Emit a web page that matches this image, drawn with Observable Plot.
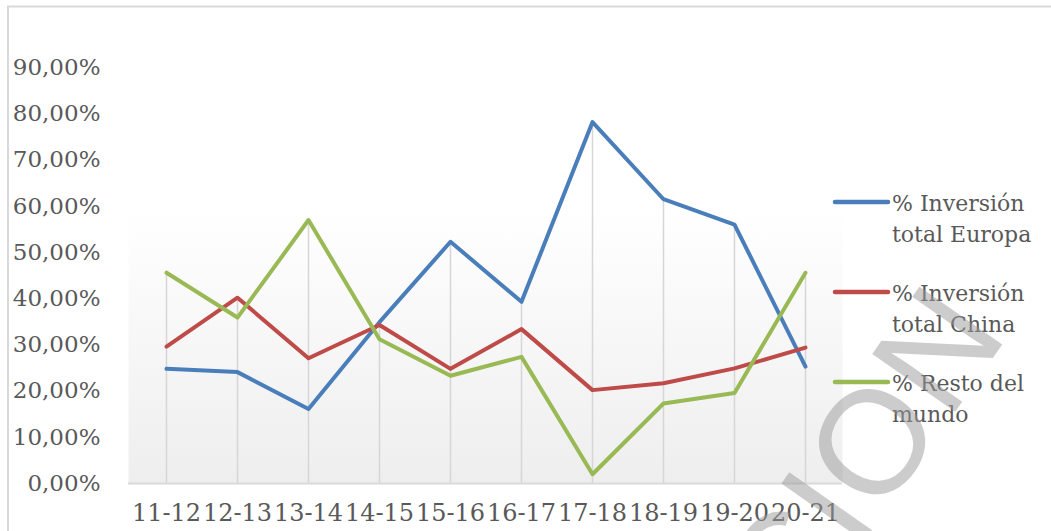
<!DOCTYPE html>
<html>
<head>
<meta charset="utf-8">
<script src="https://cdn.jsdelivr.net/npm/d3@7"></script>
<script src="https://cdn.jsdelivr.net/npm/@observablehq/plot@0.6"></script>
<style>
  html, body { margin: 0; padding: 0; background: #fff; overflow: hidden; }
  #wrap { position: relative; width: 1051px; height: 531px; }
  #wrap svg.overlay { position: absolute; left: 0; top: 0; pointer-events: none; }
</style>
</head>
<body>
<div id="wrap"></div>
<script>
// ---- data ----
const categories = ["11-12", "12-13", "13-14", "14-15", "15-16", "16-17", "17-18", "18-19", "19-20", "20-21"];
const europa = [24.8, 24.1, 16.1, 34.9, 52.3, 39.3, 78.2, 61.5, 56.0, 25.3];
const china  = [29.6, 40.2, 27.1, 34.3, 24.8, 33.4, 20.2, 21.7, 24.9, 29.4];
const resto  = [45.6, 35.9, 57.0, 31.2, 23.3, 27.4, 2.0, 17.3, 19.6, 45.6];
const seriesNames = ["% Inversión total Europa", "% Inversión total China", "% Resto del mundo"];
const legendLines = [["% Inversión", "total Europa"], ["% Inversión", "total China"], ["% Resto del", "mundo"]];
const seriesColors = ["#4a7ebb", "#be4b48", "#98b954"];
const yTicks = [0, 10, 20, 30, 40, 50, 60, 70, 80, 90];

const seriesValues = [europa, china, resto];
const rows = [];
seriesNames.forEach((s, si) => categories.forEach((c, i) => rows.push({series: s, cat: c, value: seriesValues[si][i]})));
const drops = categories.map((c, i) => ({cat: c, top: Math.max(europa[i], china[i], resto[i])}));

const W = 1051, H = 531;
const mL = 128, mR = 209, mT = 67, mB = 48;

const chart = Plot.plot({
  width: W, height: H,
  marginLeft: mL, marginRight: mR, marginTop: mT, marginBottom: mB,
  style: {fontFamily: "'DejaVu Serif', serif", fontSize: "23px", color: "#595959", background: "transparent", overflow: "visible"},
  x: {type: "point", domain: categories, padding: 0.5, label: null},
  y: {domain: [0, 90], label: null},
  color: {domain: seriesNames, range: seriesColors},
  marks: [
    () => {
      const ns = "http://www.w3.org/2000/svg";
      const defs = document.createElementNS(ns, "defs");
      defs.innerHTML = `<linearGradient id="plotGrad" x1="0" y1="0" x2="0" y2="1">
        <stop offset="0" stop-color="#ffffff"/>
        <stop offset="0.34" stop-color="#ffffff"/>
        <stop offset="1" stop-color="#eeeeee"/>
      </linearGradient>`;
      return defs;
    },
    Plot.frame({fill: "url(#plotGrad)", stroke: "none"}),
    Plot.ruleX(drops, {x: "cat", y1: 0, y2: "top", stroke: "#d6d6d6", strokeWidth: 1.5}),
    Plot.ruleY([0], {stroke: "#d9d9d9", strokeWidth: 2}),
    Plot.axisY({ticks: yTicks, tickSize: 0, tickPadding: 28, fontSize: 23,
      tickFormat: d => d.toFixed(2).replace(".", ",") + "%"}),
    Plot.axisX({tickSize: 0, tickPadding: 20, fontSize: 24}),
    Plot.line(rows, {x: "cat", y: "value", z: "series", stroke: "series", strokeWidth: 4,
      strokeLinejoin: "round", strokeLinecap: "round"})
  ]
});
const wrap = document.getElementById("wrap");
wrap.appendChild(chart);

// ---- overlay: border, legend, watermark ----
const ns = "http://www.w3.org/2000/svg";
const ov = document.createElementNS(ns, "svg");
ov.setAttribute("class", "overlay");
ov.setAttribute("width", W);
ov.setAttribute("height", H);
let html = `<path d="M8,${H} L8,6.5 L${W},6.5" fill="none" stroke="#d9d9d9" stroke-width="2"/>`;
const legendY = [202, 292, 382];
legendLines.forEach((lines, i) => {
  const y = legendY[i];
  html += `<line x1="835" x2="888" y1="${y}" y2="${y}" stroke="${seriesColors[i]}" stroke-width="4.5" stroke-linecap="round"/>`;
  html += `<text font-family="'DejaVu Serif', serif" font-size="22" fill="#595959">` +
    `<tspan x="892" y="${y + 9}">${lines[0]}</tspan>` +
    `<tspan x="892" y="${y + 40}">${lines[1]}</tspan></text>`;
});
// watermark
const wm = [["C", -152], ["I", -79.5], ["O", 0], ["N", 113]];
html += `<g transform="translate(870,440) rotate(-55)" font-family="'Liberation Sans', Arial, sans-serif" font-size="147" fill="#999" fill-opacity="0.5" text-anchor="middle">`;
wm.forEach(([ch, x]) => { html += `<text x="${x}" y="53.6">${ch}</text>`; });
html += `</g>`;
ov.innerHTML = html;
wrap.appendChild(ov);
</script>
</body>
</html>
